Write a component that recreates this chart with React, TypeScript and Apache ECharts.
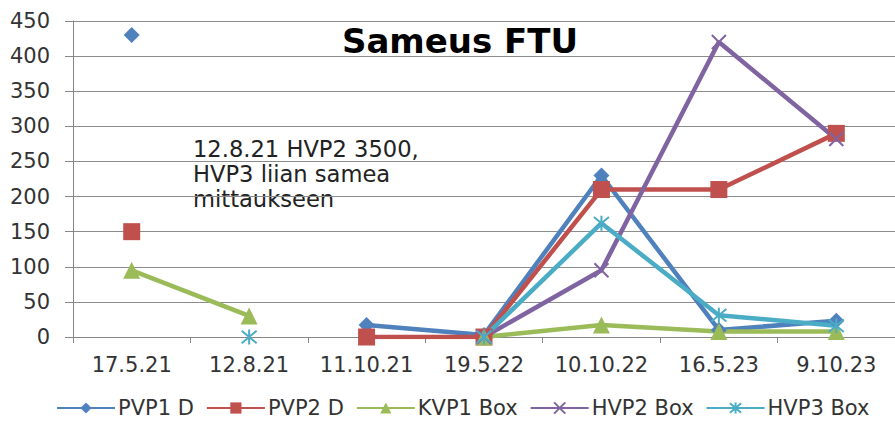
import React, { useEffect, useRef } from "react";
import * as echarts from "echarts";

const categories = ["17.5.21", "12.8.21", "11.10.21", "19.5.22", "10.10.22", "16.5.23", "9.10.23"];
const pvp1D = [430, null, 17, 3, 230, 10, 23];
const pvp2D = [150, null, 0, 0, 210, 210, 290];
const kvp1Box = [95, 30, null, 0, 17, 8, 8];
const hvp2Box = [null, null, null, 0, 95, 420, 282];
const hvp3Box = [null, 0, null, 0, 162, 31, 16];
const yTicks = { min: 0, max: 450, interval: 50 };
const titleText = "Sameus FTU";
const noteLines = ["12.8.21 HVP2 3500,", "HVP3 liian samea", "mittaukseen"];

const FONT = "DejaVu Sans";
const X_SYMBOL = "path://M0,0L10,10M10,0L0,10";
const AST_SYMBOL = "path://M0,0L10,10M10,0L0,10M5,-1L5,11";

export default function App() {
  const ref = useRef<HTMLDivElement>(null);
  useEffect(() => {
    if (!ref.current) return;
    const chart = echarts.init(ref.current, null, { renderer: "svg" });
    const mk = (name: string, data: (number | null)[], color: string, symbol: string, size: number, stroke = false) => ({
      name,
      type: "line",
      data,
      symbol,
      symbolSize: size,
      showSymbol: true,
      showAllSymbol: true,
      connectNulls: false,
      lineStyle: { color, width: 4.5 },
      itemStyle: stroke
        ? { color: "rgba(0,0,0,0)", borderColor: color, borderWidth: 2 }
        : { color, borderWidth: 0 },
      emphasis: { disabled: true },
    });
    chart.setOption({
      animation: false,
      backgroundColor: "#ffffff",
      textStyle: { fontFamily: FONT },
      grid: { left: 73, right: -5, top: 21, bottom: 84, containLabel: false },
      xAxis: {
        type: "category",
        data: categories,
        boundaryGap: true,
        axisLine: { lineStyle: { color: "#868686", width: 1 } },
        axisTick: { show: true, length: 6, lineStyle: { color: "#868686" } },
        axisLabel: { interval: 0, hideOverlap: false, fontSize: 21, color: "#333333", margin: 17, fontFamily: FONT },
        splitLine: { show: false },
      },
      yAxis: {
        type: "value",
        min: yTicks.min,
        max: yTicks.max,
        interval: yTicks.interval,
        axisLine: { show: true, lineStyle: { color: "#868686", width: 1 } },
        axisTick: { show: true, length: 8, lineStyle: { color: "#868686" } },
        axisLabel: { fontSize: 21, color: "#333333", margin: 23, fontFamily: FONT },
        splitLine: { show: true, lineStyle: { color: "#8c8c8c", width: 1 } },
      },
      legend: {
        left: 56,
        top: 396,
        padding: 0,
        itemWidth: 58,
        itemHeight: 14,
        itemGap: 12,
        textStyle: { fontSize: 21, lineHeight: 24, color: "#333333", fontFamily: FONT, padding: [0, 0, 0, -2] },
      },
      graphic: [
        {
          type: "text",
          x: 460,
          y: 41,
          style: {
            text: titleText,
            font: `bold 34px "${FONT}"`,
            fill: "#000000",
            textAlign: "center",
            textVerticalAlign: "middle",
          },
        },
        {
          type: "text",
          x: 193,
          y: 136,
          style: {
            text: noteLines.join("\n"),
            font: `22.6px "${FONT}"`,
            lineHeight: 25,
            fill: "#222222",
            textAlign: "left",
            textVerticalAlign: "top",
          },
        },
      ],
      series: [
        mk("PVP1 D", pvp1D, "#4F81BD", "diamond", 16),
        mk("PVP2 D", pvp2D, "#C0504D", "rect", 17),
        mk("KVP1 Box", kvp1Box, "#9BBB59", "triangle", 17),
        mk("HVP2 Box", hvp2Box, "#8064A2", X_SYMBOL, 14, true),
        mk("HVP3 Box", hvp3Box, "#4BACC6", AST_SYMBOL, 15, true),
      ],
    });
    return () => chart.dispose();
  }, []);
  return <div ref={ref} style={{ width: 895, height: 421, position: "absolute", left: 0, top: 0 }} />;
}
